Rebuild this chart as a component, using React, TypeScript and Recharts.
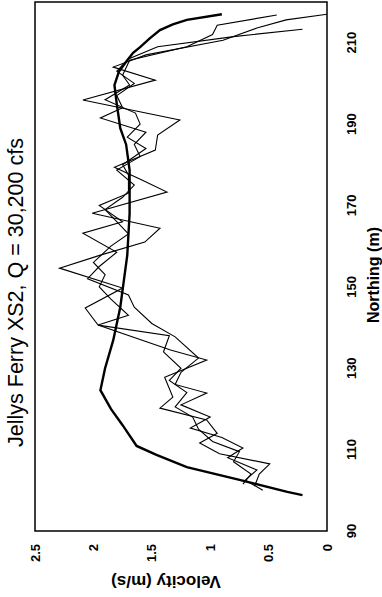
import { LineChart, Line, XAxis, YAxis, ReferenceArea } from 'recharts';

// axis ticks
const northTicks = [90, 110, 130, 150, 170, 190, 210];
const velTicks = [0, 0.5, 1, 1.5, 2, 2.5];

// modelled velocity profile (heavy line)
const modelN = [98.8, 99.6, 102.5, 105.7, 108.7, 110.9, 116, 120, 124.6, 130, 136.9, 145, 157.8, 168, 178.7, 185, 189, 195, 199.6, 203, 205.7, 207.5, 208.9, 211, 213.1, 214.5, 215.6, 217];
const modelV = [0.21, 0.34, 0.74, 1.2, 1.46, 1.63, 1.75, 1.85, 1.94, 1.9, 1.83, 1.77, 1.71, 1.69, 1.69, 1.72, 1.77, 1.8, 1.82, 1.78, 1.71, 1.66, 1.6, 1.52, 1.43, 1.32, 1.2, 0.9];

// measured transects
const run1N = [101, 104, 106.5, 109, 111.6, 114, 117.3, 120.2, 122.9, 127.8, 132, 134.5, 140.6, 144.8, 149.7, 154.6, 157.8, 161, 164.4, 168.1, 173.3, 176.2, 179.4, 183.6, 187.3, 191, 195.9, 200.8, 204, 207, 210.6, 213.6, 215.6, 217];
const run1V = [0.62, 0.58, 0.49, 0.92, 1.09, 0.94, 1.03, 1.43, 1.32, 1.39, 1.03, 1.34, 1.96, 2.07, 1.75, 2.29, 1.94, 1.56, 1.43, 2.01, 1.37, 1.58, 1.82, 1.47, 1.45, 1.26, 2.09, 1.47, 1.83, 1.55, 0.89, 0.6, 0.35, 0];

const run2N = [100, 102.5, 105, 108, 110.4, 113, 115.3, 118, 121, 123.9, 126, 129, 132.5, 137.7, 141, 145, 148, 152, 155, 158.5, 163.2, 166, 170, 173, 177.5, 180, 184, 186.8, 190, 192.7, 196, 199.6, 202, 205.7, 209, 212, 214.3, 216.8];
const run2V = [0.55, 0.7, 0.6, 0.85, 0.72, 0.9, 1.17, 1.0, 1.25, 1.03, 1.3, 1.25, 1.1, 1.3, 1.5, 1.65, 1.7, 2.05, 1.95, 1.8, 2.09, 1.75, 1.95, 1.7, 1.7, 1.75, 1.55, 1.71, 1.6, 1.64, 1.9, 1.69, 1.75, 1.69, 1.2, 0.98, 0.94, 0.43];

const run3N = [101.5, 104, 107, 109.5, 112, 115, 118, 120.5, 124, 127, 130, 134, 138, 140.6, 143, 147, 150, 153, 156, 160, 163, 166, 169, 172, 175, 178.7, 182, 185, 188, 191.5, 194, 197, 200, 203, 206, 209, 211.5, 213.3];
const run3V = [0.72, 0.65, 0.8, 0.75, 0.98, 1.1, 1.15, 1.3, 1.2, 1.35, 1.25, 1.4, 1.35, 1.96, 1.7, 1.85, 1.95, 1.9, 2.0, 1.85, 1.7, 1.8, 1.9, 1.75, 1.65, 1.8, 1.6, 1.65, 1.55, 1.94, 1.75, 1.8, 1.65, 1.8, 1.7, 1.45, 0.8, 0.21];

const zip = (ns: number[], vs: number[]) => ns.map((n, i) => ({ n, v: vs[i] }));

const model = zip(modelN, modelV);
const run1 = zip(run1N, run1V);
const run2 = zip(run2N, run2V);
const run3 = zip(run3N, run3V);

const font = '"Liberation Sans", Arial, Helvetica, sans-serif';
const tickStyle = { fontSize: 13, fontWeight: 700, fill: '#000', fontFamily: font };

export default function App() {
  // chart is laid out landscape and turned a quarter-turn to sit upright on the page
  return (
    <div
      style={{
        position: 'absolute',
        left: 0,
        top: 0,
        width: 597,
        height: 382,
        background: '#fff',
        transformOrigin: '0 0',
        transform: 'translate(0px, 597px) rotate(-90deg)',
        fontFamily: font,
        color: '#000',
      }}
    >
      <div
        style={{
          position: 'absolute',
          left: 0,
          width: 609,
          top: 6,
          textAlign: 'center',
          fontSize: 21.5,
          lineHeight: '21.5px',
          whiteSpace: 'nowrap',
        }}
      >
        Jellys Ferry XS2, Q = 30,200 cfs
      </div>
      <LineChart width={597} height={382} margin={{ top: 35, right: 2, bottom: 0, left: 0 }}>
        <XAxis
          dataKey="n"
          type="number"
          domain={[90, 220]}
          ticks={northTicks}
          tickLine={false}
          axisLine={false}
          tickMargin={14}
          height={55}
          tick={tickStyle}
          allowDataOverflow
        />
        <YAxis
          dataKey="v"
          type="number"
          domain={[0, 2.5]}
          ticks={velTicks}
          tickLine={false}
          axisLine={false}
          tickMargin={7}
          width={66}
          tick={tickStyle}
          allowDataOverflow
        />
        <ReferenceArea x1={90} x2={220} y1={0} y2={2.5} fill="none" stroke="#000" strokeWidth={1.5} ifOverflow="visible" />
        <Line data={run1} dataKey="v" type="linear" stroke="#000" strokeWidth={1.1} dot={false} isAnimationActive={false} />
        <Line data={run2} dataKey="v" type="linear" stroke="#000" strokeWidth={1.1} dot={false} isAnimationActive={false} />
        <Line data={run3} dataKey="v" type="linear" stroke="#000" strokeWidth={1.1} dot={false} isAnimationActive={false} />
        <Line data={model} dataKey="v" type="linear" stroke="#000" strokeWidth={2.4} dot={false} isAnimationActive={false} />
      </LineChart>
      <div
        style={{
          position: 'absolute',
          left: 0,
          width: 644,
          top: 366,
          textAlign: 'center',
          fontSize: 16,
          fontWeight: 700,
          lineHeight: '16px',
          whiteSpace: 'nowrap',
        }}
      >
        Northing (m)
      </div>
      <div
        style={{
          position: 'absolute',
          left: 16,
          top: 166,
          transform: 'translate(-50%, -50%) rotate(-90deg)',
          fontSize: 17,
          fontWeight: 700,
          lineHeight: '17px',
          whiteSpace: 'nowrap',
        }}
      >
        Velocity (m/s)
      </div>
    </div>
  );
}
